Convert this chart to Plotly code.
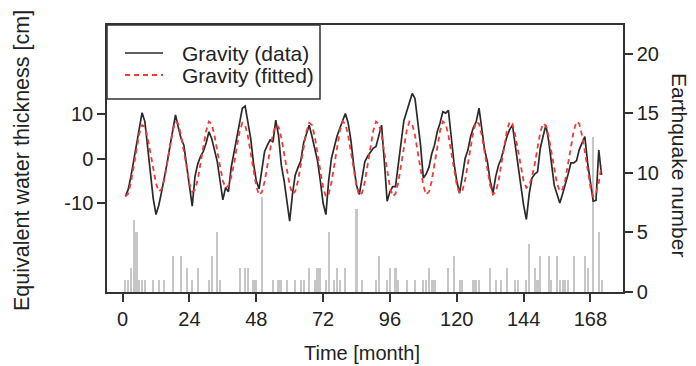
import plotly.graph_objects as go

months = list(range(1, 173))

gravity_data = [
    -8.5, -7, -4, -0.5, 3.5, 7, 10.3, 8.3, 2, -4.4, -9, -12.6,
    -10.5, -7.5, -4.4, -1, 2.7, 6, 9.8, 7, 4.5, 3, -2, -7,
    -10.7, -4, -1.2, 0.5, 1.6, 3.5, 6, 4.5, 2, -0.7, -5, -9.3,
    -6.5, -7.5, -2, 1.5, 4.5, 8, 11.3, 11.8, 8, 4.5, -1, -5,
    -6.8, -2, 1.6, 3, 4.2, 3.7, 8.6, 5.2, -1.5, -5, -10, -14.1,
    -8, -3.7, -2, -0.5, 3.5, 5.7, 7.5, 5, 2.5, -0.5, -5, -10,
    -12.6, -5, 0, 2.5, 5, 6.8, 8.5, 10.1, 8, 4, -1.5, -6,
    -8.1, -4, -0.7, 0.5, 1.5, 2.3, 2.7, 5, 7.5, -0.7, -9.6, -7.5,
    -6.3, -6.3, -1, 4.5, 8.5, 10.5, 12.5, 14.6, 13.5, 8, 3, -4.4,
    -3.5, -2, 1, 3, 6, 8, 10.5, 10.2, 10.8, 5, -1, -5,
    -7.8, -4, 0, 1.9, 5, 7, 8.3, 11.3, 7, 2, -0.7, -5,
    -7.8, -4, -1.5, 0, 2.5, 4.9, 6.5, 7.5, 3, -1.5, -7, -10.5,
    -13.7, -8, -4.4, -3.5, -3, 2.3, 5, 7.5, 4, -1.5, -6, -8,
    -10, -8, -6, -3.5, -1, -1, -0.5, 2, 3.5, 4.9, -1, -5,
    -9.6, -9.4, 1.9, -3.7,
]

gravity_fitted = [
    -8.5, -7.9, -5.4, -1.6, 2.3, 5.6, 7.5, 7.1, 4.7, 1.4, -2.3, -5.6,
    -7.4, -6.9, -4.7, -1.4, 2.6, 6.2, 8.3, 7.8, 5.2, 1.6, -2.3, -5.6,
    -7.5, -7.0, -4.7, -1.4, 2.6, 6.2, 8.3, 7.8, 5.2, 1.6, -2.0, -5.0,
    -6.6, -6.1, -4.2, -1.3, 2.5, 6.0, 8.0, 7.5, 5.0, 1.5, -2.5, -6.2,
    -8.2, -7.6, -5.2, -1.6, 2.3, 5.6, 7.5, 7.1, 4.7, 1.4, -2.5, -6.0,
    -8.0, -7.4, -5.0, -1.5, 2.5, 6.0, 8.0, 7.5, 5.0, 1.5, -2.7, -6.5,
    -8.6, -8.0, -5.4, -1.6, 2.6, 6.2, 8.3, 7.8, 5.2, 1.6, -2.6, -6.2,
    -8.3, -7.7, -5.2, -1.6, 2.6, 6.2, 8.3, 7.8, 5.2, 1.6, -2.6, -6.4,
    -8.5, -7.9, -5.4, -1.6, 2.6, 6.2, 8.3, 7.8, 5.2, 1.6, -2.5, -6.1,
    -8.1, -7.5, -5.1, -1.5, 2.6, 6.2, 8.3, 7.8, 5.2, 1.6, -2.4, -5.9,
    -7.8, -7.3, -4.9, -1.5, 2.6, 6.2, 8.3, 7.8, 5.2, 1.6, -2.5, -6.1,
    -8.1, -7.5, -5.1, -1.5, 2.6, 6.2, 8.3, 7.8, 5.2, 1.6, -2.0, -5.0,
    -6.6, -6.1, -4.2, -1.3, 2.4, 5.9, 7.9, 7.4, 5.0, 1.5, -2.3, -5.6,
    -7.4, -6.9, -4.7, -1.4, 2.6, 6.2, 8.3, 7.8, 5.2, 1.6, -2.6, -6.4,
    -8.5, -7.9, -5.4, -1.6,
]

earthquake_counts = [
    1, 1, 2, 6, 5, 1, 1, 1, 0, 0, 1, 0,
    1, 0, 1, 0, 0, 3, 0, 0, 3, 0, 2, 0,
    1, 0, 2, 0, 0, 0, 1, 3, 0, 5, 1, 0,
    0, 0, 0, 0, 0, 2, 0, 2, 2, 0, 1, 1,
    0, 8, 0, 0, 0, 1, 0, 1, 1, 0, 1, 0,
    0, 1, 0, 1, 1, 0, 2, 0, 1, 2, 2, 0,
    1, 5, 0, 1, 2, 1, 0, 2, 0, 0, 0, 7,
    0, 1, 0, 0, 0, 0, 1, 3, 0, 0, 1, 2,
    0, 2, 1, 0, 0, 1, 0, 0, 1, 0, 0, 1,
    1, 2, 1, 1, 0, 0, 0, 0, 2, 0, 3, 0,
    1, 1, 0, 0, 0, 1, 1, 1, 0, 0, 0, 2,
    0, 1, 0, 1, 0, 2, 0, 0, 1, 1, 0, 0,
    1, 4, 0, 2, 1, 3, 0, 0, 3, 1, 0, 3,
    1, 1, 1, 1, 0, 3, 0, 0, 0, 3, 2, 0,
    13, 0, 5, 1,
]

x_ticks = [0, 24, 48, 72, 96, 120, 144, 168]
left_ticks = [-10, 0, 10]
left_tick_labels = ["-10", "0", "10"]
right_ticks = [0, 5, 10, 15, 20]

FONT = "Liberation Sans, Arial, Helvetica, sans-serif"
OFF = 8  # page body margin offset in the browser
W, H = 696 - OFF, 366 - OFF
# plot frame in reference (window) pixels
FX0, FX1, FY0, FY1 = 107, 623, 25, 292
L, R, T, B = FX0 - OFF, W - (FX1 - OFF), FY0 - OFF, H - (FY1 - OFF)
PW, PH = FX1 - FX0, FY1 - FY0


def px(xp):
    return (xp - FX0) / PW


def py(yp):
    return (FY1 - yp) / PH


fig = go.Figure()

fig.add_trace(go.Bar(
    x=months, y=earthquake_counts, yaxis="y", width=0.75,
    marker=dict(color="rgba(160,160,160,0.6)", line=dict(width=0)),
    showlegend=False, name="Earthquakes",
))
fig.add_trace(go.Scatter(
    x=months, y=gravity_data, yaxis="y2", mode="lines",
    line=dict(color="#2a2a2a", width=1.7), name="Gravity (data)", showlegend=False,
))
fig.add_trace(go.Scatter(
    x=months, y=gravity_fitted, yaxis="y2", mode="lines",
    line=dict(color="#f23a3a", width=1.8, dash="5px,4px"), name="Gravity (fitted)",
    showlegend=False,
))

axis_common = dict(
    showgrid=False, zeroline=False, showline=True, linecolor="#333",
    linewidth=1.5, ticks="outside", ticklen=8, tickwidth=1.5, tickcolor="#333",
    tickfont=dict(family=FONT, size=20, color="#222"),
)

fig.update_layout(
    width=W, height=H,
    margin=dict(l=L, r=R, t=T, b=B, pad=0),
    paper_bgcolor="white", plot_bgcolor="white",
    bargap=0,
    xaxis=dict(range=[-5.6, 179.7], tickmode="array", tickvals=x_ticks,
               mirror=True, **axis_common),
    yaxis=dict(range=[0, 22.4], side="right", tickmode="array", tickvals=right_ticks,
               **axis_common),
    yaxis2=dict(range=[-30, 30], side="left", overlaying="y", tickmode="array",
                tickvals=left_ticks, ticktext=left_tick_labels, **axis_common),
    showlegend=False,
)

# legend box (drawn as shapes/annotations)
fig.add_shape(type="rect", xref="paper", yref="paper",
              x0=0, x1=px(320), y0=py(99), y1=1,
              line=dict(color="#333", width=1.5), fillcolor="white", layer="above")
fig.add_shape(type="line", xref="paper", yref="paper",
              x0=px(125), x1=px(163), y0=py(53), y1=py(53),
              line=dict(color="#2a2a2a", width=1.7), layer="above")
fig.add_shape(type="line", xref="paper", yref="paper",
              x0=px(125), x1=px(163), y0=py(75), y1=py(75),
              line=dict(color="#f23a3a", width=1.8, dash="5px,4px"), layer="above")
fig.add_annotation(text="Gravity (data)", xref="paper", yref="paper",
                   x=px(180), y=py(53), xanchor="left", yanchor="middle",
                   showarrow=False, font=dict(family=FONT, size=21, color="#222"))
fig.add_annotation(text="Gravity (fitted)", xref="paper", yref="paper",
                   x=px(180), y=py(75), xanchor="left", yanchor="middle",
                   showarrow=False, font=dict(family=FONT, size=21, color="#222"))

# axis titles
fig.add_annotation(text="Equivalent water thickness [cm]", xref="paper", yref="paper",
                   x=px(22), y=py(161), xanchor="center", yanchor="middle",
                   textangle=-90, showarrow=False,
                   font=dict(family=FONT, size=21.5, color="#222"))
fig.add_annotation(text="Earthquake number", xref="paper", yref="paper",
                   x=px(680), y=py(165), xanchor="center", yanchor="middle",
                   textangle=90, showarrow=False,
                   font=dict(family=FONT, size=21, color="#222"))
fig.add_annotation(text="Time [month]", xref="paper", yref="paper",
                   x=px(362), y=py(353), xanchor="center", yanchor="middle",
                   showarrow=False, font=dict(family=FONT, size=20, color="#222"))

fig.write_html("out.html")
